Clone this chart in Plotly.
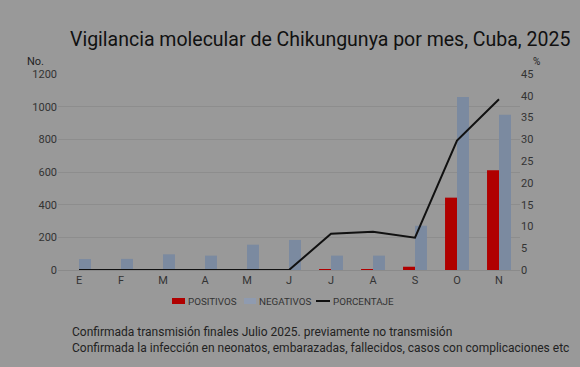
import plotly.graph_objects as go

months = ["E", "F", "M", "A", "M", "J", "J", "A", "S", "O", "N"]
positivos = [0, 0, 0, 0, 0, 0, 6, 6, 20, 443, 610]
negativos = [67, 68, 96, 88, 155, 184, 88, 88, 271, 1059, 951]
porcentaje = [0, 0, 0, 0, 0, 0, 8.3, 8.8, 7.4, 29.7, 39.2]

RED = "#b00000"
BLUE = "#7b8aa0"
x = list(range(len(months)))
BG = "#999999"
FONT = "Roboto, Arial, sans-serif"

L, R, T, B = 58, 60, 74, 97
W, H = 580, 367
PW, PH = W - L - R, H - T - B


def px(xp):
    return (xp - L) / PW


def py(yp):
    return (H - B - yp) / PH


fig = go.Figure()
fig.add_trace(go.Bar(x=x, y=positivos, name="POSITIVOS", marker_color=RED,
                     marker_line_width=0))
fig.add_trace(go.Bar(x=x, y=negativos, name="NEGATIVOS", marker_color=BLUE,
                     marker_line_width=0))
fig.add_trace(go.Scatter(x=x, y=porcentaje, name="PORCENTAJE", mode="lines",
                         line=dict(color="#111111", width=2), yaxis="y2"))

fig.update_layout(
    width=W, height=H,
    paper_bgcolor=BG, plot_bgcolor=BG,
    margin=dict(l=L, r=R, t=T, b=B),
    font=dict(family=FONT, color="#333333", size=11),
    barmode="group", bargap=0.43, bargroupgap=0,
    xaxis=dict(tickmode="array", tickvals=x, ticktext=months, range=[-0.5, 10.5],
               showgrid=False, showline=True, linecolor="#8a8a8a", linewidth=1,
               ticks="", tickfont=dict(size=11, color="#333333"), zeroline=False),
    yaxis=dict(range=[0, 1200], dtick=200, showgrid=True, gridcolor="#8d8d8d",
               gridwidth=1, zeroline=False, showline=False, ticks="",
               tickfont=dict(size=11, color="#333333")),
    yaxis2=dict(range=[0, 45], dtick=5, overlaying="y", side="right",
                showgrid=False, zeroline=False, showline=False, ticks="",
                tickfont=dict(size=11, color="#333333")),
    showlegend=False,
)

# title
fig.add_annotation(text="Vigilancia molecular de Chikungunya por mes, Cuba, 2025",
                   xref="paper", yref="paper", x=px(320), y=py(40),
                   xanchor="center", yanchor="middle", showarrow=False,
                   font=dict(size=19.5, color="#111111", family=FONT))

fig.add_annotation(text="No.", xref="paper", yref="paper", x=px(35), y=py(62),
                   xanchor="center", yanchor="middle", showarrow=False,
                   font=dict(size=11, color="#222222"))
fig.add_annotation(text="%", xref="paper", yref="paper", x=px(536), y=py(62),
                   xanchor="center", yanchor="middle", showarrow=False,
                   font=dict(size=10, color="#222222"))

# legend (manual)
leg_y = 301
fig.add_shape(type="rect", xref="paper", yref="paper", x0=px(172), x1=px(185),
              y0=py(leg_y + 3), y1=py(leg_y - 3), fillcolor=RED, line_width=0)
fig.add_shape(type="rect", xref="paper", yref="paper", x0=px(244), x1=px(256),
              y0=py(leg_y + 3), y1=py(leg_y - 3), fillcolor="#8f9bb0", line_width=0)
fig.add_shape(type="line", xref="paper", yref="paper", x0=px(316), x1=px(330),
              y0=py(leg_y), y1=py(leg_y), line=dict(color="#111111", width=2))
for label, xl in [("POSITIVOS", 186), ("NEGATIVOS", 257), ("PORCENTAJE", 331)]:
    fig.add_annotation(text=label, xref="paper", yref="paper", x=px(xl), y=py(leg_y),
                       xanchor="left", yanchor="middle", showarrow=False,
                       font=dict(size=9.8, color="#333333"))

fig.add_annotation(text="Confirmada transmisión finales Julio 2025. previamente no transmisión<br>"
                        "Confirmada la infección en neonatos, embarazadas, fallecidos, casos con complicaciones etc",
                   xref="paper", yref="paper", x=px(70), y=py(339.5),
                   xanchor="left", yanchor="middle", align="left", showarrow=False,
                   font=dict(size=12, color="#222222"))

fig.write_html("out.html", config={"displayModeBar": False},
               post_script="document.body.style.margin='0';document.body.style.overflow='hidden';")
